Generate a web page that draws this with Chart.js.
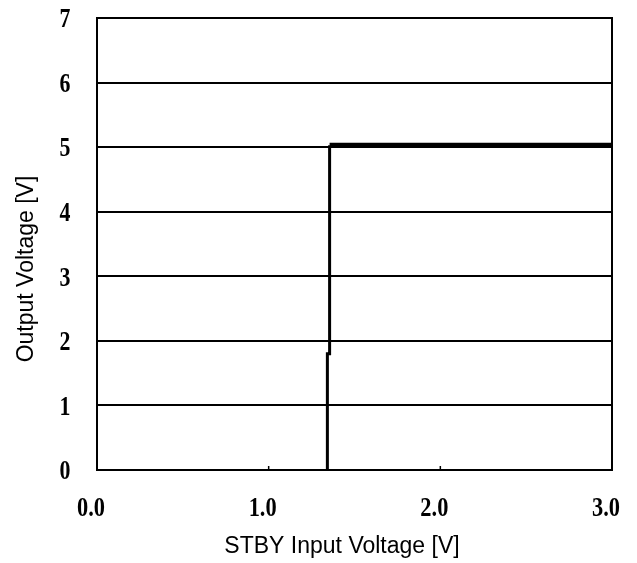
<!DOCTYPE html>
<html lang="en">
<head>
  <meta charset="UTF-8">
  <title>STBY Input Voltage vs Output Voltage</title>
  <script src="https://cdn.jsdelivr.net/npm/chart.js"></script>
  <style>
    html, body {
      margin: 0;
      padding: 0;
      background: #ffffff;
      overflow: hidden;
    }
    .wrap {
      width: 637px;
      height: 563px;
    }
  </style>
</head>
<body>
<div class="wrap">
  <canvas id="chart1" width="637" height="563"></canvas>
</div>
<script>
  // step up of the output (thin vertical part)
  const stepX = [1.342, 1.342, 1.355, 1.355];
  const stepY = [0, 1.8, 1.8, 5.03];
  // output held at ~5 V (thick part)
  const topX = [1.355, 3.0];
  const topY = [5.03, 5.03];

  const xTicks = ['0.0', '1.0', '2.0', '3.0'];
  const yTicks = ['0', '1', '2', '3', '4', '5', '6', '7'];
  const xTitle = 'STBY Input Voltage [V]';
  const yTitle = 'Output Voltage [V]';

  const toPts = (xs, ys) => xs.map((x, i) => ({ x: x, y: ys[i] }));

  // labels, frame and small ticks drawn on top
  const labelsPlugin = {
    id: 'labels',
    afterDraw(chart) {
      const ctx = chart.ctx;
      const a = chart.chartArea;
      const xs = chart.scales.x;
      const ys = chart.scales.y;
      ctx.save();

      // frame
      ctx.strokeStyle = '#000';
      ctx.lineWidth = 2;
      ctx.strokeRect(a.left, a.top, a.right - a.left, a.bottom - a.top);

      // little inner ticks on x axis
      ctx.lineWidth = 1.5;
      [1, 2].forEach(v => {
        const px = xs.getPixelForValue(v);
        ctx.beginPath();
        ctx.moveTo(px, a.bottom);
        ctx.lineTo(px, a.bottom - 4);
        ctx.stroke();
      });

      ctx.fillStyle = '#000';
      ctx.textAlign = 'center';
      ctx.textBaseline = 'middle';

      // y tick labels (condensed bold)
      yTicks.forEach(t => {
        const py = ys.getPixelForValue(parseFloat(t));
        ctx.save();
        ctx.translate(65, py + 2);
        ctx.scale(0.78, 1);
        ctx.font = 'bold 28px "Liberation Serif"';
        ctx.fillText(t, 0, 0);
        ctx.restore();
      });

      // x tick labels
      xTicks.forEach(t => {
        const px = xs.getPixelForValue(parseFloat(t));
        ctx.save();
        ctx.translate(px - 6, 509);
        ctx.scale(0.8, 1);
        ctx.font = 'bold 28px "Liberation Serif"';
        ctx.fillText(t, 0, 0);
        ctx.restore();
      });

      // axis titles
      ctx.font = '23px "Liberation Sans", Arial, sans-serif';
      ctx.fillText(xTitle, 342, 547);
      ctx.save();
      ctx.translate(27, 269);
      ctx.rotate(-Math.PI / 2);
      ctx.fillText(yTitle, 0, 0);
      ctx.restore();

      ctx.restore();
    }
  };

  new Chart(document.getElementById('chart1').getContext('2d'), {
    type: 'line',
    data: {
      datasets: [
        {
          data: toPts(stepX, stepY),
          borderColor: '#000',
          borderWidth: 3,
          pointRadius: 0,
          tension: 0
        },
        {
          data: toPts(topX, topY),
          borderColor: '#000',
          borderWidth: 5,
          pointRadius: 0,
          tension: 0
        }
      ]
    },
    options: {
      responsive: false,
      animation: false,
      layout: {
        padding: { top: 18, right: 25, left: 0, bottom: 0 }
      },
      plugins: {
        legend: { display: false },
        tooltip: { enabled: false }
      },
      scales: {
        x: {
          type: 'linear',
          min: 0,
          max: 3,
          ticks: { display: false, stepSize: 1 },
          grid: { display: false },
          border: { display: false },
          afterFit(scale) { scale.height = 93; }
        },
        y: {
          type: 'linear',
          min: 0,
          max: 7,
          ticks: { display: false, stepSize: 1 },
          grid: { color: '#000', lineWidth: 2, drawTicks: false },
          border: { display: false },
          afterFit(scale) { scale.width = 97; }
        }
      }
    },
    plugins: [labelsPlugin]
  });
</script>
</body>
</html>
